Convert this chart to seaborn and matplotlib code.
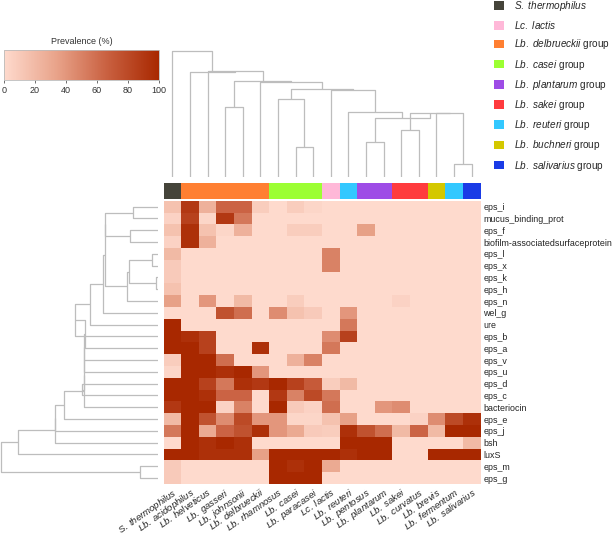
import numpy as np
import pandas as pd
import matplotlib
matplotlib.use("Agg")
import matplotlib.pyplot as plt
import seaborn as sns
from matplotlib.colors import LinearSegmentedColormap, ListedColormap, Normalize
from matplotlib.cm import ScalarMappable
from matplotlib.patches import Patch

sns.set_style("white")
plt.rcParams["font.family"] = ["Liberation Sans", "DejaVu Sans"]
plt.rcParams["mathtext.fontset"] = "custom"
plt.rcParams["mathtext.rm"] = "Liberation Sans"
plt.rcParams["mathtext.it"] = "Liberation Sans:italic"

species = ["S. thermophilus", "Lb. acidophilus", "Lb. helveticus", "Lb. gasseri",
           "Lb. johnsonii", "Lb. delbrueckii", "Lb. rhamnosus", "Lb. casei",
           "Lb. paracasei", "Lc. lactis", "Lb. reuteri", "Lb. pentosus",
           "Lb. plantarum", "Lb. sakei", "Lb. curvatus", "Lb. brevis",
           "Lb. fermentum", "Lb. salivarius"]

genes = ["eps_i", "mucus_binding_prot", "eps_f", "biofilm-associatedsurfaceprotein",
         "eps_l", "eps_x", "eps_k", "eps_h", "eps_n", "wel_g", "ure", "eps_b",
         "eps_a", "eps_v", "eps_u", "eps_d", "eps_c", "bacteriocin", "eps_e",
         "eps_j", "bsh", "luxS", "eps_m", "eps_g"]

# prevalence (%) per gene (rows) and species (columns)
prevalence = [
    [15, 90, 25, 65, 65, 8, 0, 8, 3, 0, 0, 0, 0, 0, 0, 0, 0, 0],        # eps_i
    [5, 85, 3, 90, 55, 0, 0, 0, 0, 0, 0, 0, 0, 0, 0, 0, 0, 0],          # mucus_binding_prot
    [15, 95, 15, 3, 25, 0, 0, 8, 8, 0, 0, 35, 0, 0, 0, 0, 0, 0],        # eps_f
    [5, 95, 25, 0, 0, 0, 0, 0, 0, 0, 0, 0, 0, 0, 0, 0, 0, 0],           # biofilm
    [20, 0, 0, 0, 0, 0, 0, 0, 0, 50, 0, 0, 0, 0, 0, 0, 0, 0],           # eps_l
    [10, 0, 0, 0, 0, 0, 0, 0, 0, 50, 0, 0, 0, 0, 0, 0, 0, 0],           # eps_x
    [10, 0, 0, 0, 0, 0, 0, 0, 0, 0, 0, 0, 0, 0, 0, 0, 0, 0],            # eps_k
    [15, 0, 0, 0, 0, 0, 0, 0, 0, 0, 0, 0, 0, 0, 0, 0, 0, 0],            # eps_h
    [35, 0, 40, 0, 20, 0, 0, 8, 0, 0, 0, 0, 0, 5, 0, 0, 0, 0],          # eps_n
    [0, 0, 0, 75, 60, 0, 45, 15, 10, 0, 40, 0, 0, 0, 0, 0, 0, 0],       # wel_g
    [100, 0, 0, 0, 0, 0, 0, 0, 0, 0, 55, 0, 0, 0, 0, 0, 0, 0],          # ure
    [100, 95, 85, 0, 0, 0, 0, 0, 0, 45, 85, 0, 0, 0, 0, 0, 0, 0],       # eps_b
    [100, 100, 85, 0, 0, 95, 0, 0, 0, 55, 0, 0, 0, 0, 0, 0, 0, 0],      # eps_a
    [8, 100, 100, 60, 0, 0, 0, 25, 50, 0, 0, 0, 0, 0, 0, 0, 0, 0],      # eps_v
    [3, 100, 100, 95, 100, 40, 0, 0, 0, 0, 0, 0, 0, 0, 0, 0, 0, 0],     # eps_u
    [100, 100, 85, 55, 95, 90, 100, 85, 70, 8, 20, 0, 0, 0, 0, 0, 0, 0],   # eps_d
    [100, 100, 95, 65, 65, 0, 90, 50, 80, 55, 0, 0, 0, 0, 0, 0, 0, 0],     # eps_c
    [90, 100, 100, 5, 50, 0, 100, 10, 5, 60, 0, 0, 40, 45, 0, 0, 0, 0],    # bacteriocin
    [20, 100, 75, 45, 80, 40, 40, 3, 3, 15, 35, 0, 0, 0, 5, 45, 80, 95],   # eps_e
    [55, 100, 30, 65, 75, 95, 40, 30, 10, 8, 95, 75, 60, 20, 65, 20, 100, 100],  # eps_j
    [0, 100, 95, 100, 95, 0, 0, 0, 0, 0, 100, 100, 100, 0, 0, 0, 0, 20],         # bsh
    [100, 100, 95, 95, 95, 35, 100, 100, 100, 100, 95, 100, 100, 0, 0, 100, 100, 100],  # luxS
    [10, 0, 0, 0, 0, 0, 100, 95, 100, 30, 0, 0, 0, 0, 0, 0, 0, 0],      # eps_m
    [10, 0, 0, 0, 0, 0, 100, 100, 100, 0, 0, 0, 0, 0, 0, 0, 0, 0],      # eps_g
]

group_names = [r"$\it{S.\ thermophilus}$", r"$\it{Lc.\ lactis}$",
               r"$\it{Lb.\ delbrueckii}$ group", r"$\it{Lb.\ casei}$ group",
               r"$\it{Lb.\ plantarum}$ group", r"$\it{Lb.\ sakei}$ group",
               r"$\it{Lb.\ reuteri}$ group", r"$\it{Lb.\ buchneri}$ group",
               r"$\it{Lb.\ salivarius}$ group"]
group_colors = ["#45443a", "#ffb8d8", "#ff7f32", "#9cff33", "#9e4ce6",
                "#ff3b3e", "#33c8ff", "#d4c800", "#1a3be6"]
# group of each species column (index into group_names)
species_group = [0, 2, 2, 2, 2, 2, 3, 3, 3, 1, 6, 4, 4, 5, 5, 7, 6, 8]

# column tree: (left, right, height)
col_tree = (0, (1, (2, ((3, 4, 69.4),
                        (5, ((6, (7, 8, 29.4), 77.4),
                             (9, (10, ((11, 12, 35.0),
                                       ((13, 14, 46.7), (15, (16, 17, 12.4), 63.4), 64.0),
                                       59.0), 65.0), 86.7), 87.4), 94.4), 95.4), 105.7), 105.0), 126.0)

# row tree: (top, bottom, height)
_upper = ((((0, 1, 25.0), (2, 3, 27.4), 53.0),
           (((4, 5, 6.0), (6, 7, 2.0), 28.4), 8, 31.0), 52.4), 9, 54.4)
_mid = ((((((_upper, 10, 67.7), 11, 82.7), 12, 72.7), 13, 73.5), 14, 73.7),
        (15, 16, 76.0), 74.0)
row_tree = (((((_mid, 17, 73.7), 18, 93.7), 19, 102.7), 20, 102.9), 21, 139.4)
row_tree = (row_tree, (22, 23, 17.4), 156.7)

cmap = LinearSegmentedColormap.from_list("prev", ["#fedacd", "#e9a48b", "#c96040", "#a82800"])
line_col = "#bdbdbd"


def draw_tree(ax, node, horizontal):
    # returns (position, height) of node and draws U links
    if not isinstance(node, tuple):
        return node + 0.5, 0.0
    p1, h1 = draw_tree(ax, node[0], horizontal)
    p2, h2 = draw_tree(ax, node[1], horizontal)
    h = node[2]
    ps = [p1, p1, p2, p2]
    hs = [h1, h, h, h2]
    if horizontal:
        ax.plot(hs, ps, color=line_col, lw=0.9, solid_capstyle="butt")
    else:
        ax.plot(ps, hs, color=line_col, lw=0.9, solid_capstyle="butt")
    return (p1 + p2) / 2, h


W, H = 614, 535
fig = plt.figure(figsize=(W / 100, H / 100), dpi=100)


def px_axes(x0, y0, x1, y1):
    return fig.add_axes([x0 / W, 1 - y1 / H, (x1 - x0) / W, (y1 - y0) / H])


df = pd.DataFrame(prevalence, index=genes, columns=species)

ax_heat = px_axes(163.5, 200.7, 480.5, 484.0)
sns.heatmap(df, ax=ax_heat, cmap=cmap, vmin=0, vmax=100, cbar=False,
            xticklabels=True, yticklabels=True)
ax_heat.yaxis.tick_right()
ax_heat.tick_params(axis="y", length=0, pad=2)
ax_heat.tick_params(axis="x", length=0, pad=1.5)
ax_heat.set_yticklabels(genes, rotation=0, fontsize=6.4, color="#222222")
ax_heat.set_xticklabels([r"$\it{%s}$" % s.replace(" ", r"\ ") for s in species],
                        rotation=35, ha="right", va="top", rotation_mode="anchor",
                        fontsize=6.8, color="#222222")
ax_heat.set_xlabel("")
ax_heat.set_ylabel("")

ax_grp = px_axes(163.5, 182.7, 480.5, 199.3)
sns.heatmap(np.array([species_group]), ax=ax_grp, cmap=ListedColormap(group_colors),
            vmin=-0.5, vmax=len(group_colors) - 0.5, cbar=False,
            xticklabels=False, yticklabels=False)

ax_ct = px_axes(163.5, 50.0, 480.5, 176.7)
draw_tree(ax_ct, col_tree, horizontal=False)
ax_ct.set_xlim(0, len(species))
ax_ct.set_ylim(0, 126.7)
ax_ct.axis("off")

ax_rt = px_axes(0, 200.7, 157.7, 484.0)
draw_tree(ax_rt, row_tree, horizontal=True)
ax_rt.set_ylim(len(genes), 0)
ax_rt.set_xlim(157.7, 0)
ax_rt.axis("off")

ax_cb = px_axes(4, 50, 159, 80)
cb = fig.colorbar(ScalarMappable(norm=Normalize(0, 100), cmap=cmap), cax=ax_cb,
                  orientation="horizontal", ticks=[0, 20, 40, 60, 80, 100])
cb.outline.set_edgecolor("#bbbbbb")
cb.outline.set_linewidth(0.6)
ax_cb.tick_params(labelsize=6.5, colors="#333333", length=2, width=0.5, pad=2)
ax_cb.set_title("Prevalence (%)", fontsize=6.5, color="#333333", pad=4)

handles = [Patch(facecolor=c, edgecolor="none") for c in group_colors]
fig.legend(handles, group_names, loc="upper left", bbox_to_anchor=(494 / W, 1.002),
           frameon=False, fontsize=7.2, handlelength=0.95, handleheight=0.95,
           labelspacing=0.62, borderpad=0, handletextpad=1.0, borderaxespad=0)

fig.savefig("out.png", dpi=100)
